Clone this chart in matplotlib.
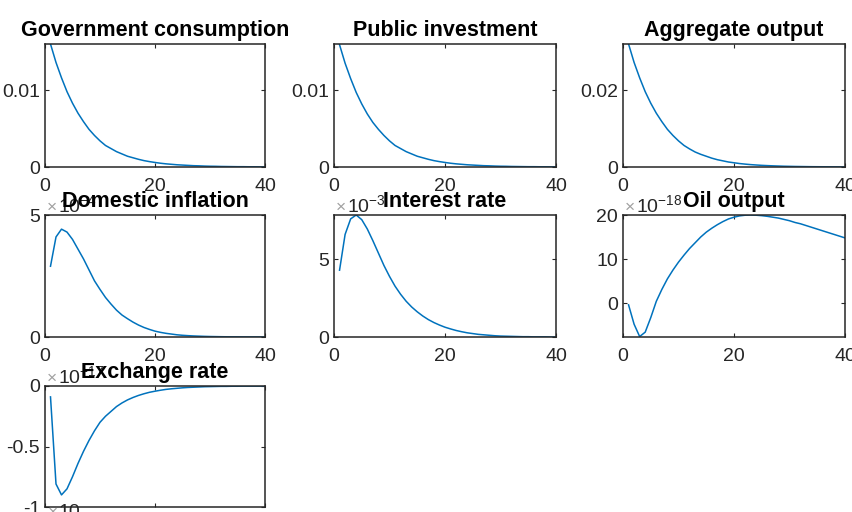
import numpy as np
import matplotlib
matplotlib.use("Agg")
import matplotlib.pyplot as plt

# =========================
# 1. DATA (impulse responses)
# =========================
horizon = list(range(1, 41))

gov_consumption = [0.0160, 0.0136, 0.0116, 0.0098, 0.0083, 0.0070, 0.0059, 0.0049, 0.0041, 0.0034,
                   0.0028, 0.0024, 0.0020, 0.0017, 0.0014, 0.0012, 0.0010, 0.00083, 0.00070, 0.00059,
                   0.00049, 0.00041, 0.00035, 0.00029, 0.00025, 0.00021, 0.00017, 0.00015, 0.00012, 0.00010,
                   0.00009, 0.00007, 0.00006, 0.00005, 0.00004, 0.00004, 0.00003, 0.00003, 0.00002, 0.00002]

public_investment = [0.0159, 0.0135, 0.0115, 0.0097, 0.0082, 0.0069, 0.0058, 0.0049, 0.0041, 0.0034,
                     0.0028, 0.0024, 0.0020, 0.0017, 0.0014, 0.0012, 0.0010, 0.00083, 0.00070, 0.00059,
                     0.00049, 0.00041, 0.00035, 0.00029, 0.00025, 0.00021, 0.00017, 0.00015, 0.00012, 0.00010,
                     0.00009, 0.00007, 0.00006, 0.00005, 0.00004, 0.00004, 0.00003, 0.00003, 0.00002, 0.00002]

aggregate_output = [0.0320, 0.0272, 0.0232, 0.0196, 0.0166, 0.0140, 0.0118, 0.0098, 0.0082, 0.0068,
                    0.0056, 0.0047, 0.0039, 0.0033, 0.0028, 0.0023, 0.0019, 0.0016, 0.0013, 0.0011,
                    0.0009, 0.00075, 0.00062, 0.00052, 0.00043, 0.00036, 0.00030, 0.00025, 0.00020, 0.00017,
                    0.00014, 0.00012, 0.00010, 0.00008, 0.00007, 0.00006, 0.00005, 0.00004, 0.00003, 0.00003]

# scaled by 1e-4
domestic_inflation = [2.9, 4.1, 4.42, 4.3, 4.0, 3.6, 3.2, 2.75, 2.3, 1.95,
                      1.62, 1.35, 1.1, 0.9, 0.75, 0.61, 0.49, 0.39, 0.31, 0.24,
                      0.19, 0.15, 0.12, 0.09, 0.07, 0.055, 0.043, 0.034, 0.026, 0.02,
                      0.016, 0.012, 0.009, 0.007, 0.006, 0.004, 0.003, 0.003, 0.002, 0.002]

# scaled by 1e-3
interest_rate = [4.3, 6.6, 7.6, 7.85, 7.55, 6.95, 6.2, 5.4, 4.6, 3.9,
                 3.27, 2.75, 2.3, 1.93, 1.62, 1.35, 1.12, 0.93, 0.77, 0.63,
                 0.52, 0.42, 0.34, 0.27, 0.22, 0.17, 0.14, 0.11, 0.08, 0.06,
                 0.05, 0.04, 0.03, 0.02, 0.02, 0.01, 0.01, 0.01, 0.0, 0.0]

# scaled by 1e-18
oil_output = [-0.4, -4.8, -7.6, -6.6, -3.3, 0.4, 3.1, 5.5, 7.5, 9.3,
              10.9, 12.4, 13.7, 15.0, 16.1, 17.0, 17.8, 18.5, 19.1, 19.5,
              19.8, 19.95, 20.0, 19.95, 19.85, 19.7, 19.5, 19.3, 19.0, 18.7,
              18.3, 18.0, 17.6, 17.2, 16.8, 16.4, 16.0, 15.6, 15.2, 14.8]

# scaled by 1e-17
exchange_rate = [-0.09, -0.81, -0.90, -0.85, -0.75, -0.64, -0.54, -0.45, -0.37, -0.30,
                 -0.25, -0.21, -0.17, -0.14, -0.115, -0.095, -0.078, -0.064, -0.052, -0.043,
                 -0.035, -0.028, -0.023, -0.019, -0.015, -0.012, -0.010, -0.008, -0.006, -0.005,
                 -0.004, -0.003, -0.003, -0.002, -0.002, -0.001, -0.001, -0.001, -0.001, 0.0]

titles = ["Government consumption", "Public investment", "Aggregate output",
          "Domestic inflation", "Interest rate", "Oil output", "Exchange rate"]
series = [gov_consumption, public_investment, aggregate_output,
          domestic_inflation, interest_rate, oil_output, exchange_rate]
ytick_vals = [[0, 0.01], [0, 0.01], [0, 0.02], [0, 5], [0, 5], [0, 10, 20], [-1, -0.5, 0]]
ytick_labels = [["0", "0.01"], ["0", "0.01"], ["0", "0.02"], ["0", "5"], ["0", "5"],
                ["0", "10", "20"], ["-1", "-0.5", "0"]]
ylims = [(0, 0.016), (0, 0.016), (0, 0.032), (0, 5), (0, 7.85), (-7.7, 20), (-1, 0)]
exponents = [None, None, None, "-4", "-3", "-18", "-17"]

# =========================
# 2. STYLE
# =========================
plt.rcParams['font.family'] = ['Liberation Sans', 'DejaVu Sans']
plt.rcParams['axes.unicode_minus'] = False
plt.rcParams['mathtext.fontset'] = 'custom'
plt.rcParams['mathtext.rm'] = 'Liberation Sans'
plt.rcParams['mathtext.it'] = 'Liberation Sans'

W, H = 853, 512
fig = plt.figure(figsize=(W / 100, H / 100), dpi=100)

col_edges = [(45, 265), (334, 556), (623, 845)]
row_edges = [(44, 167), (215, 337), (386, 507)]

line_color = "#0072BD"
dark = "#262626"


def exponent_label(ax, exp_text, dy=3):
    ax.annotate("×", xy=(0, 1), xycoords="axes fraction", xytext=(2, dy),
                textcoords="offset pixels", fontsize=12.5, color="#a0a0a0",
                ha="left", va="baseline")
    ax.annotate("10$^{" + exp_text + "}$", xy=(0, 1), xycoords="axes fraction",
                xytext=(13, dy), textcoords="offset pixels", fontsize=14,
                color=dark, ha="left", va="baseline")


# =========================
# 3. PANELS
# =========================
for i, (title, vals) in enumerate(zip(titles, series)):
    left, right = col_edges[i % 3]
    top, bottom = row_edges[i // 3]
    ax = fig.add_axes([left / W, 1 - bottom / H, (right - left) / W, (bottom - top) / H])

    ax.plot(horizon, vals, color=line_color, linewidth=1.1)
    ax.set_xlim(0, 40)
    ax.set_ylim(*ylims[i])
    ax.set_xticks([0, 20, 40])
    ax.set_xticklabels(["0", "20", "40"])
    ax.set_yticks(ytick_vals[i])
    ax.set_yticklabels(ytick_labels[i])

    ax.tick_params(direction="in", top=True, right=True, length=3, width=0.8,
                   labelsize=14, colors=dark)
    ax.tick_params(axis="x", pad=8)
    ax.tick_params(axis="y", pad=3.5)
    for sp in ax.spines.values():
        sp.set_color(dark)
        sp.set_linewidth(1.1)

    if exponents[i] is not None:
        exponent_label(ax, exponents[i])

    ax.set_title(title, fontsize=15.5, fontweight="bold", color="black", pad=5.8, zorder=5)

# partly visible label of the next (cropped) row
fig.text(48 / W, 1 - 517 / H, "×", fontsize=12.5, color="#a0a0a0", ha="left", va="baseline")
fig.text(59 / W, 1 - 517 / H, "10", fontsize=14, color=dark, ha="left", va="baseline")

fig.savefig("out.png", dpi=100)
